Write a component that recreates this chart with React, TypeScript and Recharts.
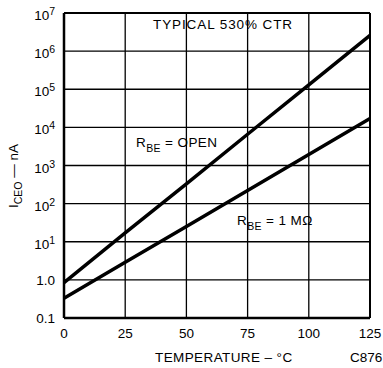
import {
  CartesianGrid,
  Line,
  LineChart,
  ReferenceLine,
  XAxis,
  YAxis,
} from "recharts";

const temps = [0, 25, 50, 75, 100, 125];
const rbeOpen = [0.85, 17, 330, 6600, 130000, 2600000];
const rbe1Meg = [0.33, 2.9, 25, 220, 1950, 17000];
const xTicks = [0, 25, 50, 75, 100, 125];
const yTicks = [0.1, 1, 10, 100, 1000, 10000, 100000, 1000000, 10000000];

const data = temps.map((t, i) => ({ temp: t, open: rbeOpen[i], meg: rbe1Meg[i] }));

const font = "'Liberation Sans', Arial, sans-serif";

function YTick({ x, y, payload }: any) {
  const v = payload.value;
  if (v < 10) {
    return (
      <text x={x - 9} y={y + 5} textAnchor="end" fontSize={13.5} fontFamily={font} fill="#000">
        {v === 1 ? "1.0" : "0.1"}
      </text>
    );
  }
  const exp = Math.round(Math.log10(v));
  return (
    <text x={x - 9} y={y + 7} textAnchor="end" fontSize={13.5} fontFamily={font} fill="#000">
      <tspan>10</tspan>
      <tspan dy={-5} fontSize={10.5}>
        {exp}
      </tspan>
    </text>
  );
}

function XTick({ x, y, payload }: any) {
  return (
    <text x={x} y={y + 20} textAnchor="middle" fontSize={13.5} fontFamily={font} fill="#000">
      {payload.value}
    </text>
  );
}

export default function App() {
  return (
    <div style={{ position: "absolute", left: 0, top: 0, width: 383, height: 368, background: "#fff" }}>
      <LineChart width={383} height={368} data={data} margin={{ top: 13, right: 13, left: 4, bottom: 0 }}>
        <CartesianGrid stroke="#000" strokeWidth={1.3} />
        <XAxis
          dataKey="temp"
          type="number"
          domain={[0, 125]}
          ticks={xTicks}
          height={50}
          tickLine={false}
          tickSize={0}
          tickMargin={0}
          axisLine={{ stroke: "#000", strokeWidth: 2.5 }}
          tick={<XTick />}
        />
        <YAxis
          type="number"
          scale="log"
          domain={[0.1, 10000000]}
          ticks={yTicks}
          allowDataOverflow
          width={60}
          tickLine={false}
          tickSize={0}
          tickMargin={0}
          axisLine={{ stroke: "#000", strokeWidth: 2.5 }}
          tick={<YTick />}
        />
        <ReferenceLine y={10000000} stroke="#000" strokeWidth={2} />
        <ReferenceLine x={125} stroke="#000" strokeWidth={2} />
        <Line dataKey="open" stroke="#000" strokeWidth={3.5} dot={false} isAnimationActive={false} />
        <Line dataKey="meg" stroke="#000" strokeWidth={3.5} dot={false} isAnimationActive={false} />
      </LineChart>
      <svg
        width={383}
        height={368}
        style={{ position: "absolute", left: 0, top: 0, pointerEvents: "none" }}
        fontFamily={font}
        fill="#000"
      >
        <text x={153} y={29} fontSize={13.5} letterSpacing={0.9}>TYPICAL 530% CTR</text>
        <text x={136} y={147} fontSize={13.5} letterSpacing={0.4}>
          R<tspan dy={5} fontSize={10.5}>BE</tspan>
          <tspan dy={-5}> = OPEN</tspan>
        </text>
        <text x={237} y={225} fontSize={13.5} letterSpacing={0.4}>
          R<tspan dy={5} fontSize={10.5}>BE</tspan>
          <tspan dy={-5}> = 1 MΩ</tspan>
        </text>
        <text x={155} y={362} fontSize={13.5} letterSpacing={0.4}>TEMPERATURE – °C</text>
        <text x={350} y={362} fontSize={13.5}>C876</text>
        <text transform="translate(18,176) rotate(-90)" textAnchor="middle" fontSize={13.5}>
          I<tspan dy={4} fontSize={10.5}>CEO</tspan>
          <tspan dy={-4}>  —  nA</tspan>
        </text>
      </svg>
    </div>
  );
}
